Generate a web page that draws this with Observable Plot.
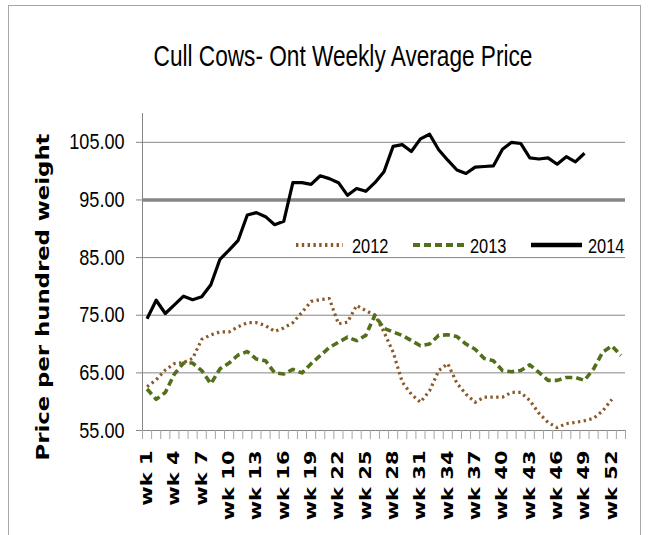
<!DOCTYPE html>
<html><head><meta charset="utf-8">
<script src="https://cdn.jsdelivr.net/npm/d3@7"></script>
<script src="https://cdn.jsdelivr.net/npm/@observablehq/plot@0.6"></script>
<style>
body{margin:0;background:#fff;}
#wrap{position:relative;width:649px;height:535px;overflow:hidden;}
#frame{position:absolute;left:8px;top:5px;width:633px;height:560px;border:1px solid #a6a6a6;box-sizing:border-box;}
.narrow{font-family:"Liberation Sans",Arial,sans-serif;}
#title{position:absolute;left:0;top:42px;width:686px;text-align:center;font-size:29px;line-height:29px;color:#000;white-space:nowrap;transform:scaleX(0.78);transform-origin:343px 0;}
.leg{position:absolute;font-size:21px;line-height:21px;color:#000;white-space:nowrap;transform:scaleX(0.78);transform-origin:0 0;}
#chart{position:absolute;left:0;top:0;}
</style></head>
<body>
<div id="wrap">
  <div id="frame"></div>
  <div id="chart"></div>
  <div id="title" class="narrow">Cull Cows- Ont Weekly Average Price</div>
</div>
<script>
// ---- data ----
const weeks = Array.from({length: 53}, (_, i) => i + 1);
const tickWeeks = [1,4,7,10,13,16,19,22,25,28,31,34,37,40,43,46,49,52];
const yTicks = [55,65,75,85,95,105];
const gridLines = [65,75,85,105];
const refLine = [95];
const years = ["2012","2013","2014"];
const price2012 = [62.6,63.8,65.5,66.6,66.8,67.5,70.8,71.6,72.1,72.1,
  73.0,73.7,73.7,73.2,72.2,72.8,73.7,75.5,77.4,77.7,
  77.9,73.5,73.8,76.7,75.8,75.0,72.1,68.6,63.4,61.3,
  59.9,61.9,65.4,66.6,63.2,61.3,59.9,60.8,60.8,60.8,
  61.6,61.6,60.2,58.0,56.4,55.5,56.2,56.4,56.7,57.1,
  58.4,60.4];
const price2013 = [62.2,60.4,61.6,64.8,66.7,66.7,65.4,63.1,65.7,66.7,
  68.1,68.7,67.4,67.1,65.0,64.8,65.6,65.0,66.6,68.0,
  69.4,70.3,71.2,70.6,71.5,75.0,72.7,72.1,71.5,70.6,
  69.7,70.0,71.5,71.6,71.3,70.0,69.1,67.5,67.1,65.4,
  65.2,65.4,66.4,65.1,63.7,63.7,64.2,64.2,63.7,65.7,
  68.6,69.7,68.0];
const price2014 = [74.4,77.6,75.3,76.8,78.3,77.7,78.2,80.3,84.7,86.3,
  88.0,92.4,92.8,92.1,90.7,91.3,98.0,98.0,97.7,99.2,
  98.7,98.0,95.8,97.0,96.5,98.0,99.9,104.3,104.6,103.4,
  105.6,106.4,103.7,101.9,100.2,99.6,100.7,100.8,100.9,103.8,
  105.0,104.8,102.3,102.1,102.3,101.2,102.5,101.6,103.1];

// ---- styles ----
const seriesStyle = {
  "2012": {stroke: "#8B5A2B", strokeWidth: 3.2, dash: "2.4,3.4"},
  "2013": {stroke: "#52701A", strokeWidth: 3.6, dash: "7,4"},
  "2014": {stroke: "#000000", strokeWidth: 3.2, dash: null}
};
const toRows = (vals, year) => vals.map((v, i) => ({week: weeks[i], price: v, year}));
const rows = {"2012": toRows(price2012, "2012"), "2013": toRows(price2013, "2013"), "2014": toRows(price2014, "2014")};
const boundaries = [0, ...weeks].map(w => w + 0.5);
const axisGray = "#868686";

const lineMark = (y) => Plot.line(rows[y], {
  x: "week", y: "price", stroke: seriesStyle[y].stroke, strokeWidth: seriesStyle[y].strokeWidth,
  strokeDasharray: seriesStyle[y].dash || undefined, strokeLinejoin: "round", strokeLinecap: "butt"
});

const svg = Plot.plot({
  width: 649, height: 535,
  marginLeft: 142, marginRight: 24, marginTop: 113, marginBottom: 105,
  style: {fontFamily: "DejaVu Sans, sans-serif", fontSize: "16px", background: "transparent", overflow: "visible", color: "#000"},
  x: {type: "linear", domain: [0.5, 53.5]},
  y: {domain: [55, 110]},
  marks: [
    Plot.ruleY(gridLines, {stroke: axisGray, strokeWidth: 1, strokeOpacity: 1}),
    Plot.ruleY(refLine, {stroke: axisGray, strokeWidth: 3.5, strokeOpacity: 1}),
    Plot.ruleX([0.5], {stroke: axisGray, strokeOpacity: 1}),
    Plot.ruleY([55], {stroke: axisGray, strokeOpacity: 1}),
    Plot.axisY({ticks: yTicks, tickFormat: d3.format(".2f"), tickSize: 6, tickPadding: 12, stroke: axisGray, strokeOpacity: 1, label: null}),
    Plot.axisX({ticks: boundaries, tickSize: 9, tickFormat: () => "", stroke: "#a6a6a6", strokeOpacity: 1, label: null}),
    Plot.axisX({ticks: tickWeeks, tickFormat: d => "wk " + d, tickSize: 0, tickPadding: 20, tickRotate: -90, label: null}),
    lineMark("2012"), lineMark("2013"), lineMark("2014")
  ]
});
document.getElementById("chart").appendChild(svg);

// y tick labels: condensed look
d3.select(svg).selectAll('g[aria-label="y-axis tick label"] text')
  .attr("font-family", '"Liberation Sans", Arial, sans-serif')
  .attr("font-size", "22px")
  .each(function() {
    const L = this.getComputedTextLength();
    this.setAttribute("textLength", (L * 0.82).toFixed(1));
    this.setAttribute("lengthAdjust", "spacingAndGlyphs");
  });
// x tick labels: stretch along text direction
d3.select(svg).selectAll('g[aria-label="x-axis tick label"] text')
  .attr("font-size", "15px")
  .attr("font-weight", "bold")
  .attr("transform", function() { const t = this.getAttribute("transform") || ""; return t + " scale(1.4,1)"; });

// y axis title
d3.select(svg).append("text")
  .attr("transform", "translate(49,297) rotate(-90)")
  .attr("text-anchor", "middle")
  .attr("font-family", "DejaVu Sans, sans-serif")
  .attr("font-weight", "bold")
  .attr("font-size", "18px")
  .attr("textLength", 327)
  .attr("lengthAdjust", "spacingAndGlyphs")
  .text("Price per hundred weight");

// legend
const legendLayout = {"2012": {x1: 296, x2: 343, tx: 352}, "2013": {x1: 413, x2: 464, tx: 470}, "2014": {x1: 531, x2: 582, tx: 588}};
const wrap = document.getElementById("wrap");
years.forEach(y => {
  const L = legendLayout[y], s = seriesStyle[y];
  const ns = "http://www.w3.org/2000/svg";
  const sv = document.createElementNS(ns, "svg");
  sv.setAttribute("width", L.x2 - L.x1); sv.setAttribute("height", 12);
  sv.style.position = "absolute"; sv.style.left = L.x1 + "px"; sv.style.top = "239px";
  const ln = document.createElementNS(ns, "line");
  ln.setAttribute("x1", 0); ln.setAttribute("x2", L.x2 - L.x1); ln.setAttribute("y1", 6); ln.setAttribute("y2", 6);
  ln.setAttribute("stroke", s.stroke); ln.setAttribute("stroke-width", y === "2014" ? 4.5 : s.strokeWidth + 0.6);
  if (s.dash) ln.setAttribute("stroke-dasharray", s.dash);
  sv.appendChild(ln); wrap.appendChild(sv);
  const t = document.createElement("div");
  t.className = "leg narrow"; t.textContent = y;
  t.style.left = L.tx + "px"; t.style.top = "235px";
  wrap.appendChild(t);
});
</script>
</body></html>
